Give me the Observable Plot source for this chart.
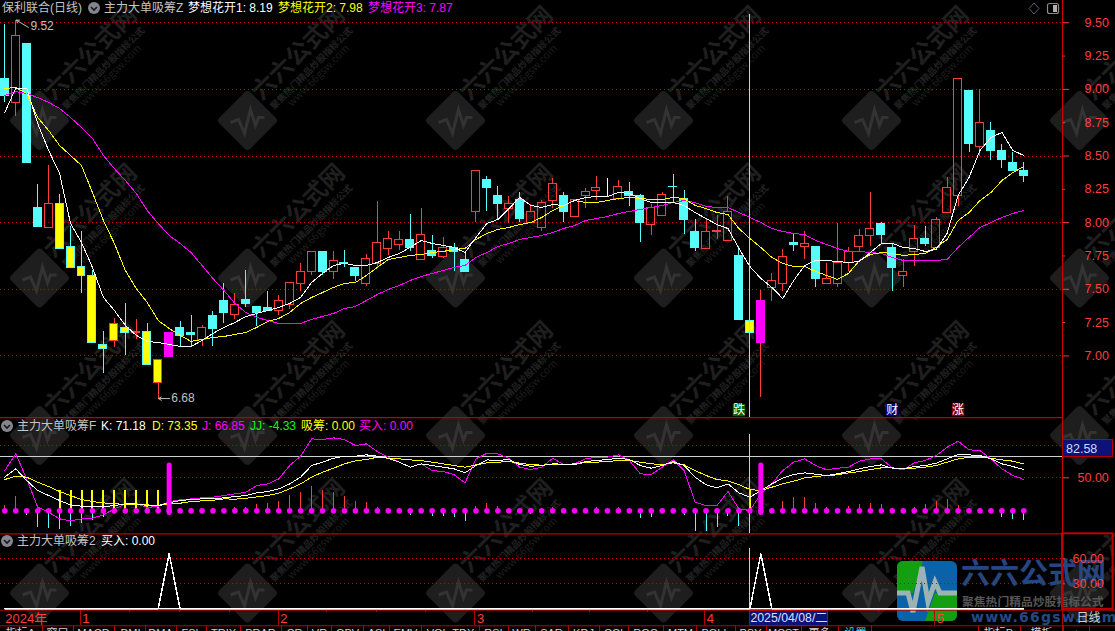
<!DOCTYPE html>
<html><head><meta charset="utf-8">
<script src="https://cdn.jsdelivr.net/npm/d3@7"></script>
<script src="https://cdn.jsdelivr.net/npm/@observablehq/plot@0.6"></script>
<style>
html,body{margin:0;padding:0;background:#000;width:1115px;height:631px;overflow:hidden}
#root{position:relative;width:1115px;height:631px;overflow:hidden;background:#000;font-family:"Liberation Sans","Noto Sans CJK SC",sans-serif}
.lb{position:absolute;font-size:12px;line-height:14px;white-space:nowrap}
</style></head><body><div id="root"></div>
<script>
// ---------- price candles ----------
const opens=[9.08,8.90,9.34,8.11,7.96,8.14,7.82,7.67,7.60,7.08,7.11,7.21,7.17,7.18,6.80,6.99,7.21,7.17,7.12,7.30,7.41,7.31,7.42,7.37,7.36,7.34,7.38,7.54,7.63,7.78,7.63,7.70,7.66,7.54,7.69,7.80,7.83,7.87,7.72,7.79,7.74,7.81,7.72,8.08,8.32,8.20,8.10,8.17,8.00,7.96,8.16,8.20,8.04,8.20,8.24,8.21,8.18,8.23,8.20,7.98,8.05,8.27,8.18,7.93,7.80,7.93,7.86,7.75,7.26,7.10,7.51,7.54,7.845,7.82,7.82,7.54,7.54,7.70,7.82,7.90,7.99,7.81,7.60,7.78,7.88,7.81,8.07,8.20,8.99,8.57,8.69,8.54,8.45,8.39];
const highs=[9.49,9.52,9.34,8.29,8.43,8.21,7.97,7.93,7.64,7.18,7.28,7.39,7.27,7.24,6.97,7.17,7.26,7.30,7.23,7.33,7.54,7.47,7.64,7.37,7.48,7.45,7.55,7.69,7.78,7.78,7.78,7.79,7.66,7.76,8.16,7.93,7.93,8.06,8.11,7.90,7.89,7.84,7.78,8.39,8.35,8.27,8.20,8.23,8.14,8.17,8.33,8.23,8.17,8.26,8.35,8.33,8.32,8.30,8.21,8.14,8.23,8.36,8.24,8.02,8.03,8.05,8.20,7.82,7.36,7.49,7.62,7.80,7.92,7.93,7.82,7.69,7.99,7.81,7.95,8.23,8.00,7.84,7.72,7.98,7.97,8.04,8.34,9.08,8.99,9.00,8.75,8.59,8.53,8.45];
const lows=[8.90,8.80,8.45,7.96,7.96,7.80,7.66,7.47,7.09,6.87,7.06,7.00,7.12,6.93,6.68,6.99,7.06,7.07,7.07,7.07,7.24,7.27,7.36,7.22,7.34,7.30,7.35,7.48,7.60,7.60,7.57,7.66,7.56,7.52,7.66,7.75,7.79,7.78,7.72,7.73,7.73,7.63,7.63,8.00,8.08,8.02,7.99,8.00,8.00,7.93,8.11,8.00,8.04,8.11,8.17,8.19,8.17,8.12,7.85,7.90,8.05,8.15,7.91,7.78,7.80,7.87,7.86,7.27,7.07,6.69,7.41,7.48,7.78,7.72,7.51,7.54,7.51,7.63,7.78,7.82,7.84,7.48,7.51,7.67,7.82,7.81,8.07,8.12,8.53,8.50,8.47,8.41,8.39,8.30];
const closes=[8.95,9.40,8.45,7.97,8.14,7.80,7.66,7.60,7.10,7.05,7.24,7.17,7.18,6.93,6.97,7.17,7.15,7.16,7.21,7.20,7.32,7.38,7.39,7.32,7.34,7.41,7.55,7.63,7.78,7.63,7.71,7.69,7.60,7.73,7.85,7.88,7.87,7.81,7.91,7.75,7.81,7.78,7.63,8.39,8.26,8.14,8.14,8.03,8.08,8.15,8.29,8.08,8.17,8.23,8.26,8.21,8.27,8.20,8.00,8.11,8.21,8.265,8.02,7.81,7.93,7.94,8.08,7.27,7.17,7.41,7.56,7.74,7.835,7.84,7.58,7.58,7.70,7.78,7.90,7.95,7.91,7.66,7.63,7.88,7.84,8.02,8.26,9.08,8.59,8.75,8.54,8.47,8.39,8.35];
const yellowDays=[5,6,7,8,9,10,11,12,13,14,68];
const magentaDays=[15,69];
const whiteDays=[55];
// ---------- 梦想花开 lines ----------
const dream1=[8.827,9.010,9.009,8.744,8.542,8.369,7.994,7.851,7.664,7.439,7.341,7.229,7.154,7.109,7.101,7.086,7.071,7.071,7.116,7.169,7.214,7.251,7.296,7.319,7.341,7.364,7.394,7.439,7.551,7.619,7.679,7.694,7.679,7.679,7.701,7.739,7.769,7.814,7.866,7.844,7.829,7.814,7.776,7.889,7.994,8.024,8.106,8.189,8.129,8.114,8.136,8.129,8.166,8.189,8.196,8.196,8.226,8.219,8.181,8.151,8.151,8.151,8.129,8.076,8.031,7.986,7.956,7.806,7.671,7.581,7.514,7.431,7.566,7.679,7.716,7.716,7.709,7.701,7.709,7.776,7.844,7.844,7.814,7.806,7.784,7.799,7.919,8.204,8.339,8.542,8.639,8.677,8.542,8.504];
const dream2=[9.007,9.014,8.969,8.789,8.692,8.579,8.504,8.429,8.226,8.016,7.844,7.641,7.506,7.401,7.266,7.206,7.154,7.109,7.124,7.139,7.146,7.161,7.176,7.214,7.259,7.281,7.326,7.394,7.439,7.476,7.514,7.544,7.551,7.604,7.664,7.724,7.739,7.754,7.761,7.776,7.784,7.799,7.806,7.874,7.919,7.949,7.964,7.986,8.001,8.039,8.091,8.129,8.166,8.151,8.151,8.166,8.181,8.189,8.181,8.174,8.174,8.189,8.181,8.129,8.106,8.076,8.061,7.956,7.881,7.814,7.739,7.694,7.671,7.671,7.634,7.604,7.574,7.619,7.716,7.761,7.776,7.769,7.754,7.761,7.769,7.814,7.874,8.016,8.076,8.166,8.226,8.316,8.376,8.421];
const dream3=[8.954,8.984,8.969,8.939,8.902,8.857,8.789,8.714,8.632,8.504,8.406,8.317,8.219,8.091,7.994,7.904,7.844,7.776,7.679,7.581,7.491,7.394,7.326,7.289,7.266,7.244,7.244,7.244,7.274,7.296,7.319,7.356,7.371,7.416,7.461,7.499,7.529,7.566,7.596,7.619,7.641,7.664,7.679,7.739,7.776,7.821,7.844,7.874,7.889,7.904,7.926,7.956,7.979,8.016,8.031,8.046,8.069,8.084,8.099,8.114,8.129,8.151,8.166,8.151,8.121,8.114,8.114,8.076,8.039,8.001,7.956,7.934,7.919,7.911,7.866,7.836,7.806,7.784,7.784,7.776,7.769,7.739,7.716,7.716,7.716,7.716,7.724,7.814,7.889,7.964,8.001,8.039,8.069,8.091];
// ---------- KDJ pane ----------
const kLine=[51.0,64.0,45.7,30.1,22.3,14.5,7.7,5.6,4.6,4.6,6.7,9.3,9.3,6.7,6.7,10.9,14.5,16.1,17.1,17.1,18.7,20.7,22.3,26.5,28.6,32.7,40.5,51.0,69.2,74.4,80.6,83.8,83.8,85.8,83.8,80.6,74.4,66.6,71.8,69.2,66.6,64.0,57.7,69.2,78.0,77.0,78.6,70.7,68.1,69.2,71.8,71.3,70.7,75.4,77.0,78.6,80.6,78.6,69.2,65.0,69.2,75.4,69.2,51.0,39.0,34.3,40.5,26.5,19.7,30.1,40.5,49.4,55.1,57.7,55.6,53.6,56.2,59.8,64.0,67.6,70.2,65.0,64.0,67.6,69.2,72.8,79.6,86.4,85.8,84.8,79.6,71.8,67.6,62.9];
const dLine=[47.3,52.5,51.0,43.1,36.4,28.6,22.3,16.1,12.9,10.9,9.3,8.8,8.8,7.7,6.7,9.3,10.3,12.9,14.0,15.0,17.1,16.6,18.1,20.2,22.3,25.9,32.7,40.5,51.0,58.8,65.0,71.8,76.5,78.6,82.2,80.6,79.6,78.0,77.0,74.4,71.8,69.2,66.6,70.2,73.3,74.4,75.4,72.8,70.7,69.7,71.3,70.7,71.8,73.9,74.4,75.4,77.0,77.0,74.4,71.8,70.7,73.3,70.2,61.4,53.6,47.3,45.2,39.5,31.7,30.1,35.3,40.5,44.7,49.9,52.0,53.6,54.6,57.7,59.8,62.9,65.5,65.5,64.0,65.0,66.6,69.2,74.4,79.6,82.2,82.2,80.6,78.0,76.0,71.8];
const jLine=[61.4,87.4,48.3,4.1,-3.7,-14.1,-17.3,-14.1,-13.1,-7.9,1.5,8.8,9.8,3.6,5.6,12.9,15.5,17.1,18.7,19.7,22.3,24.9,27.5,37.9,40.5,48.3,69.2,83.8,110.8,109.8,112.4,109.8,100.4,103.0,91.0,82.2,74.4,66.6,71.8,61.4,59.8,55.1,42.1,79.6,88.4,87.4,80.6,66.6,62.9,66.6,80.6,70.7,71.8,79.6,82.2,82.2,85.8,77.0,56.2,55.1,66.6,78.0,61.4,11.9,6.7,6.7,28.6,1.5,-1.1,24.9,40.5,61.4,74.4,79.6,69.2,62.4,65.0,66.6,76.0,79.6,79.6,65.5,62.4,73.3,77.0,84.8,97.8,107.2,93.7,92.6,79.6,64.0,53.6,47.3];
const jjStems=[6.7,20.7,-8.9,-27.2,-28.7,-30.8,-25.6,-20.9,-17.3,-12.1,0,0,0,0,0,0,0,0,0,0,0,3.6,3.6,8.8,9.8,12.9,22.3,26.5,36.4,30.1,26.5,20.7,12.9,11.9,3.6,0,0,-8.9,0,-10.5,-10.5,-12.1,-18.3,4.6,9.3,4.6,0,0,-6.9,0,3.0,0,0,0,3.0,0,3.6,0,-13.6,-12.1,0,0,-8.9,-33.9,-33.9,-27.2,-10.5,-26.1,0,-7.4,0,12.9,19.2,19.2,9.8,3.0,0,5.1,8.8,9.8,8.2,0,0,3.0,8.8,12.9,16.1,7.2,0,0,0,-12.1,-15.2,-16.8];
const stemBase=-1.6, xiChouDays=[5,6,7,8,9,10,11,12,13,14], xiChouTop=30.1, buyBarTop=69.2, buyBarBottom=-4.8, crossK=82.58;
// ---------- buy pane ----------
const buyDays=[15,69], buyPeak=66;
// ---------- axes and labels ----------
const crossDay=68, crossDate="2025/04/08/二";
const monthTicks=[6.87,24.95,42.9,63.86,84.85], monthNames=["1","2","3","4","5"];
const minorTicks=[11.38,15.9,20.47,29.36,33.92,38.4,48.16,53.36,58.65,79.7];
const priceMajor=[9.5,9,8.5,8,7.5,7], priceMinor=[9.25,8.75,8.25,7.75,7.25];
const signals=[{d:67,t:"跌",c:"#006400"},{d:81,t:"财",c:"#000080"},{d:87,t:"涨",c:"#800000"}];
const tabs=["指标A","窗口","MACD","DMI","DMA","FSL","TRIX","BRAR","CR","VR","OBV","ASI","EMV","VOL-TDX","RSI","WR","SAR","KDJ","CCI","ROC","MTM","BOLL","PSY","MCST","更多","设置","指标B","模板","+"];
const tabCenters=[20,57,93,130,160,191,223,260,294,319,347,376,405,450,493,521,551,583,613,645,680,715,750,783,819,855,998,1041,1076];
const tabSeps=[41.8,72.5,114,145,176,206,240,281,307,331,363,389,421,479,508,535,567.5,598.6,628,663,696,735,766,801,838,871,978,1020,1063,1089];
const wmCols=[0,1,2,3,4,5], wmRows=[0,1,2,3];

[opens,highs,lows,closes,dream1,dream2,dream3,kLine,dLine,jLine,jjStems].forEach((a,n)=>{if(a.length!==94)throw new Error("len "+n+" "+a.length)});

const RED="#ff3c3c",CY="#54fcfc",YE="#ffff00",MA="#ff00ff",GRID="#c00000",LINE="#b80000",CROSS="#cfcfcf";
const FONT='"Liberation Sans","Noto Sans CJK SC",sans-serif';
const days=d3.range(94);
const candles=days.map(i=>{const up=closes[i]>=opens[i];return{i,o:opens[i],h:highs[i],l:lows[i],c:closes[i],
 top:Math.max(opens[i],closes[i]),bot:Math.min(opens[i],closes[i]),
 col:whiteDays.includes(i)?"#ffffff":up?RED:CY,
 fill:magentaDays.includes(i)?MA:yellowDays.includes(i)?YE:up?"none":whiteDays.includes(i)?"#fff":CY,
 edge:magentaDays.includes(i)?MA:whiteDays.includes(i)?"#fff":up?RED:CY}});
const root=document.getElementById("root");
const xDomain=[-0.3924,96.53],half=0.365;
const AX=(top,h,domain,marks)=>{const svg=Plot.plot({width:1115,height:h,marginLeft:0,marginRight:53,marginTop:0,marginBottom:0,
  x:{domain:xDomain,axis:null},y:{domain,range:[h,0],axis:null,label:null},
  style:{background:"transparent",position:"absolute",left:"0",top:top+"px",maxWidth:"none",fontFamily:FONT,overflow:"visible"},marks});root.appendChild(svg);return svg};
const crisp={shapeRendering:"crispEdges"};
const grid=t=>Plot.ruleY(t,{stroke:GRID,strokeDasharray:"1 3",strokeWidth:1,...crisp});
const axis=(t,size,pad,fmt=".2f")=>Plot.axisY(t,{anchor:"right",tickSize:size,tickPadding:pad,tickFormat:fmt,color:RED,fontSize:12.5,fontFamily:FONT});
const sline=(vals,col,w=1)=>Plot.line(days,{x:d=>d,y:d=>vals[d],stroke:col,strokeWidth:w,...crisp});

// watermark
const iconDiamond={draw(c){const R=31,r=4;const k=Math.SQRT1_2;c.moveTo(-r*k,-R+r*k);c.quadraticCurveTo(0,-R,r*k,-R+r*k);c.lineTo(R-r*k,-r*k);c.quadraticCurveTo(R,0,R-r*k,r*k);c.lineTo(r*k,R-r*k);c.quadraticCurveTo(0,R,-r*k,R-r*k);c.lineTo(-R+r*k,r*k);c.quadraticCurveTo(-R,0,-R+r*k,-r*k);c.closePath();}};
const iconPulse={draw(c){[[-17,2],[-9,-1],[-3,13],[3,-11],[8,5],[11,-3],[17,-3]].forEach((p,n)=>n?c.lineTo(...p):c.moveTo(...p));}};
const tiles=d3.cross(wmCols,wmRows).map(([c,r])=>({c,r}));
const wmText=(t,dx,dy,size,w,col)=>Plot.text(tiles,{x:"c",y:"r",text:()=>t,dx,dy,rotate:-45,fontSize:size,fontWeight:w,fill:col,fontFamily:'"Noto Sans CJK SC",sans-serif'});
root.appendChild(Plot.plot({width:1115,height:631,margin:0,
 x:{domain:[0,5],range:[39,1079],axis:null},y:{domain:[0,3],range:[120,592.5],axis:null},
 style:{background:"transparent",position:"absolute",left:"0",top:"0",maxWidth:"none"},
 marks:[
  Plot.dot(tiles,{x:"c",y:"r",symbol:iconDiamond,r:10,fill:"#1e1e1e",stroke:"none"}),
  Plot.dot(tiles,{x:"c",y:"r",symbol:iconPulse,r:10,fill:"none",stroke:"#333333",strokeWidth:3}),
  wmText("六六公式网",51,-67,24,700,"#1f1f1f"),
  wmText("聚焦热门精品炒股指标公式",64,-52,9.3,700,"#222222"),
  wmText("www.66gsw.com",71,-45,10.5,400,"#1e1e1e")
 ]}));

// logo (site stamp, under the chart)
const logo=document.createElement("div");
logo.innerHTML=`<svg width="1115" height="631" style="position:absolute;left:0;top:0"><defs><clipPath id="lc"><rect x="897" y="561" width="60" height="60" rx="6"/></clipPath></defs>
<g clip-path="url(#lc)"><rect x="897" y="561" width="60" height="60" fill="#0a62a8"/><path d="M897 561H923L913 593H897Z" fill="#12a012"/><path d="M925 621L935 593H957V621Z" fill="#12a012"/>
<path d="M897 593H908L913 612L922 567L928 602L935 582L940 593H957" fill="none" stroke="#9db3b3" stroke-width="5"/></g>
<g font-family='"Noto Sans CJK SC",sans-serif'><text x="961" y="584" font-size="29" font-weight="700" fill="#26467f">六六公式网</text>
<text x="962" y="606" font-size="11.8" font-weight="700" fill="#565656">聚焦热门精品炒股指标公式</text></g>
<text x="971" y="622" font-size="14" font-weight="700" letter-spacing="1.2" fill="#224a86" font-family='"DejaVu Sans",sans-serif'>www.66gsw.com</text></svg>`;
root.appendChild(logo);

// price pane
AX(0,417,[6.538,9.667],[
 grid(priceMajor),
 Plot.ruleX(candles,{x:"i",y1:"h",y2:"top",stroke:"col",...crisp}),
 Plot.ruleX(candles,{x:"i",y1:"bot",y2:"l",stroke:"col",...crisp}),
 Plot.rect(candles,{x1:d=>d.i-half,x2:d=>d.i+half,y1:"bot",y2:"top",fill:"fill",stroke:"edge",strokeWidth:1,...crisp}),
 sline(dream3,MA),sline(dream2,YE),sline(dream1,"#ffffff"),
 Plot.ruleX([crossDay],{y1:6.538,y2:9.562,stroke:CROSS,...crisp}),
 Plot.ruleX([xDomain[1]],{stroke:"#d00000"}),
 axis(priceMajor,6,16),axis(priceMinor,2,20),
 Plot.arrow([{x1:2.15,y1:9.465,x2:1.05,y2:9.52}],{x1:"x1",y1:"y1",x2:"x2",y2:"y2",stroke:"#bdbdbd",strokeWidth:1,headLength:5,bend:0}),
 Plot.text([{x:2.34,y:9.475,t:"9.52"},{x:15.2,y:6.685,t:"6.68"}],{x:"x",y:"y",text:"t",textAnchor:"start",fill:"#c0c0c0",fontSize:12,fontFamily:FONT}),
 Plot.arrow([{x1:15.05,x2:14.02,y:6.68}],{x1:"x1",x2:"x2",y1:"y",y2:"y",stroke:"#bdbdbd",strokeWidth:1,headLength:5,bend:0}),
 Plot.dot(signals,{x:"d",y:()=>6.594,symbol:"square",r:7,fill:"c"}),
 Plot.text(signals,{x:"d",y:()=>6.594,text:"t",fill:"#ffffff",fontSize:12,fontFamily:'"Noto Sans CJK SC",sans-serif'})
]);

// KDJ pane
const stems=days.filter(i=>jjStems[i]!==0).map(i=>({i,v:jjStems[i]}));
AX(417,116,[-37,144.2],[
 grid([100,50]),
 Plot.ruleY([crossK],{stroke:"#d0d0d0",strokeWidth:1,...crisp}),
 Plot.ruleY([144],{stroke:LINE,strokeWidth:1.2}),
 Plot.ruleX(stems,{x:"i",y1:()=>stemBase,y2:"v",stroke:d=>d.v>0?RED:CY,...crisp}),
 Plot.ruleX(xiChouDays,{x:d=>d,y1:()=>stemBase+2,y2:()=>xiChouTop,stroke:YE,strokeWidth:2,...crisp}),
 Plot.ruleX([crossDay+0.03],{y1:stemBase,y2:30.1,stroke:YE,...crisp}),
 sline(jLine,MA),sline(dLine,YE),sline(kLine,"#ffffff"),
 Plot.ruleX([crossDay],{y1:-37,y2:118,stroke:CROSS,...crisp}),
 Plot.ruleX(buyDays,{x:d=>d,y1:()=>buyBarBottom,y2:()=>buyBarTop,stroke:MA,strokeWidth:5,strokeLinecap:"round"}),
 Plot.dot(days,{x:d=>d,y:()=>stemBase,r:2.8,fill:MA}),
 Plot.ruleX([xDomain[1]],{stroke:"#d00000"}),
 axis([50],6,9),axis([100],2,0,()=>""),
 Plot.rect([crossK],{x1:()=>96.58,x2:()=>101.15,y1:()=>crossK,y2:()=>108.3,fill:"#0c1278",stroke:LINE,strokeWidth:1,...crisp}),
 Plot.text([crossK],{x:()=>96.85,y:()=>95.5,text:()=>crossK.toFixed(2),textAnchor:"start",fill:"#cfd8ff",fontSize:12.5,fontFamily:FONT})
]);

// buy pane
const buySeries=days.map(i=>buyDays.includes(i)?buyPeak:0);
AX(533,76,[-0.84,90.4],[
 grid([60,30]),
 Plot.ruleY([90],{stroke:LINE,strokeWidth:1.2}),
 Plot.ruleX([crossDay],{y1:0,y2:72,stroke:CROSS,...crisp}),
 sline(buySeries,"#ffffff",1.5),
 Plot.ruleY([0],{x1:0,x2:93,stroke:"#ffffff",strokeWidth:1.5}),
 Plot.ruleX([xDomain[1]],{stroke:"#d00000",strokeWidth:2}),
 Plot.rect([0],{x1:()=>xDomain[1],x2:()=>101.15,y1:()=>-0.6,y2:()=>90,fill:"none",stroke:"#c00000",strokeWidth:2}),
 axis([60,30],2,8)
]);

// date band
root.appendChild(Plot.plot({width:1115,height:22,margin:0,marginRight:53,
 x:{domain:xDomain,axis:null},y:{domain:[0,22],range:[0,22],axis:null},
 style:{background:"transparent",position:"absolute",left:"0",top:"609px",maxWidth:"none",overflow:"visible"},
 marks:[
  Plot.ruleY([0.7,16.3],{stroke:LINE,strokeWidth:1,x1:xDomain[0],x2:101.8}),
  Plot.ruleX(monthTicks,{y1:0.7,y2:16.3,stroke:LINE,...crisp}),
  Plot.ruleX(minorTicks,{y1:0.7,y2:3,stroke:LINE,...crisp}),
  Plot.ruleX([xDomain[1]],{y1:0.7,y2:22,stroke:LINE,...crisp}),
  Plot.text(monthNames,{x:(d,i)=>monthTicks[i]+0.2,y:()=>9.5,text:d=>d,textAnchor:"start",fill:RED,fontSize:13,fontFamily:FONT}),
  Plot.text(["2024年"],{x:()=>0.05,y:()=>9.5,text:d=>d,textAnchor:"start",fill:RED,fontSize:13,fontFamily:FONT}),
  Plot.rect([crossDate],{x1:()=>crossDay,x2:()=>75.15,y1:()=>1,y2:()=>16,fill:"#0c1278",stroke:LINE,...crisp}),
  Plot.text([crossDate],{x:()=>71.57,y:()=>9,text:d=>d,fill:"#d8e0ff",fontSize:12.3,fontFamily:FONT}),
  Plot.text(["日线"],{x:()=>97.8,y:()=>8.5,text:d=>d,textAnchor:"start",fill:"#d0d0d0",fontSize:12,fontFamily:FONT})
 ]}));

// tab strip
root.appendChild(Plot.plot({width:1115,height:6,margin:0,
 x:{domain:[0,1115],range:[0,1115],axis:null},
 y:{domain:[0,6],range:[0,6],axis:null},
 style:{background:"transparent",position:"absolute",left:"0",top:"625px",maxWidth:"none",overflow:"hidden"},
 marks:[
  Plot.ruleX(tabSeps,{y1:0,y2:6,stroke:LINE,...crisp}),
  Plot.text(tabs,{x:(d,i)=>tabCenters[i],y:()=>7.5,text:d=>d,fill:d=>d==="设置"?"#33ddff":"#d4d4d4",fontSize:11,fontFamily:FONT})
 ]}));

// caption rows
const put=(t,x,y,c)=>{const s=document.createElement("span");s.className="lb";s.textContent=t;s.style.left=x+"px";s.style.top=(y-7)+"px";s.style.color=c;root.appendChild(s)};
[["保利联合(日线)",2,8,"#c4c4c4"],["主力大单吸筹Z",104,8,"#c4c4c4"],["梦想花开1: 8.19",188,8,"#fff"],["梦想花开2: 7.98",278,8,YE],["梦想花开3: 7.87",368,8,MA],
 ["主力大单吸筹F",17,426,"#c4c4c4"],["K: 71.18",101,426,"#fff"],["D: 73.35",152,426,YE],["J: 66.85",202,426,MA],["JJ: -4.33",250,426,"#00ff00"],["吸筹: 0.00",301,426,YE],["买入: 0.00",359,426,MA],
 ["主力大单吸筹2",17,541,"#c4c4c4"],["买入: 0.00",101,541,"#fff"]].forEach(a=>put(...a));
const icons=document.createElement("div");
const chev=(x,y)=>`<circle cx="${x}" cy="${y}" r="6" fill="#85858f"/><path d="M${x-3} ${y-1}L${x} ${y+2}L${x+3} ${y-1}" fill="none" stroke="#16161c" stroke-width="1.6"/>`;
icons.innerHTML=`<svg width="1115" height="631" style="position:absolute;left:0;top:0">${chev(94,8)}${chev(7,426)}${chev(7,541)}
<path d="M1034 3L1039 8.5L1034 14L1029 8.5Z" fill="none" stroke="#5c5c74"/><rect x="1047.5" y="3.5" width="11" height="10" rx="2" fill="none" stroke="#8a8a8a" stroke-width="1.2"/><rect x="1053" y="5" width="4" height="7" fill="#b0b0b0"/></svg>`;
root.appendChild(icons);
</script></body></html>
